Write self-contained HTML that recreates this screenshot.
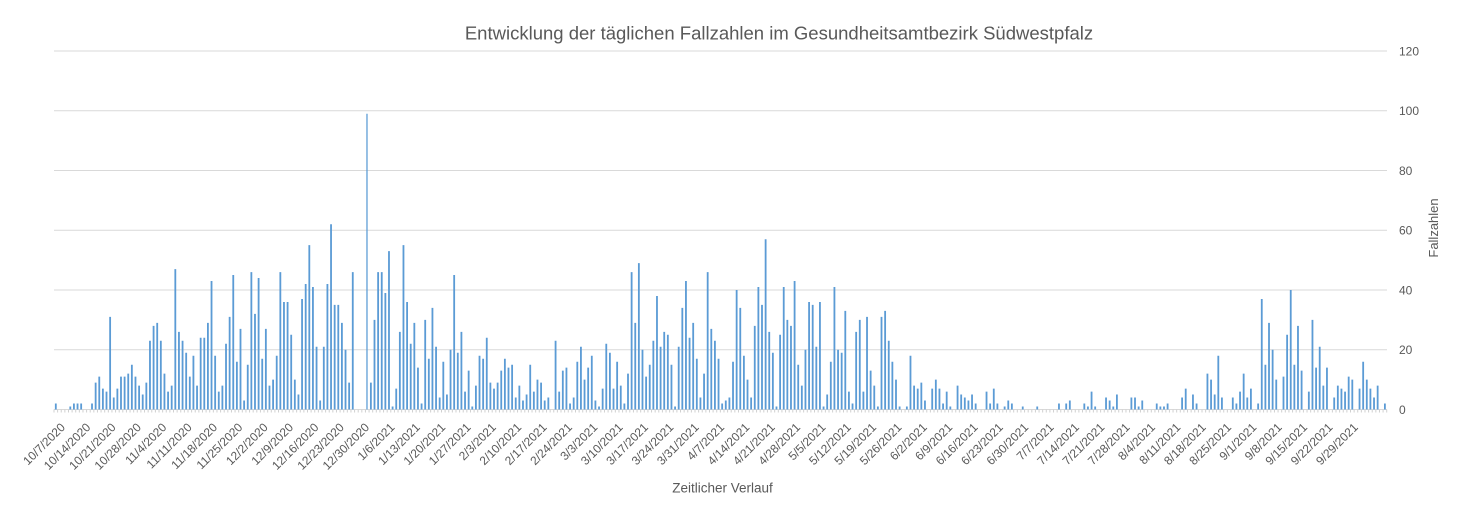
<!DOCTYPE html>
<html><head><meta charset="utf-8"><style>
html,body{margin:0;padding:0;background:#fff;}
svg{display:block;}
text{font-family:"Liberation Sans",sans-serif;fill:#595959;}
</style></head><body>
<svg width="1458" height="512" viewBox="0 0 1458 512" xmlns="http://www.w3.org/2000/svg">
<rect width="1458" height="512" fill="#fff"/>
<text x="779" y="39.5" font-size="18.5" text-anchor="middle">Entwicklung der täglichen Fallzahlen im Gesundheitsamtbezirk Südwestpfalz</text>
<g stroke="#D9D9D9" stroke-width="1">
<line x1="54" y1="51" x2="1387" y2="51"/>
<line x1="54" y1="110.75" x2="1387" y2="110.75"/>
<line x1="54" y1="170.5" x2="1387" y2="170.5"/>
<line x1="54" y1="230.25" x2="1387" y2="230.25"/>
<line x1="54" y1="290" x2="1387" y2="290"/>
<line x1="54" y1="349.75" x2="1387" y2="349.75"/>
<line x1="54" y1="409.5" x2="1387" y2="409.5"/>
</g>
<line x1="53.5" y1="411" x2="1387.5" y2="411" stroke="#D0D0D0" stroke-width="3" stroke-dasharray="1 2.6215"/>
<g font-size="12">
<text x="1399" y="55.3">120</text>
<text x="1399" y="115">100</text>
<text x="1399" y="174.8">80</text>
<text x="1399" y="234.5">60</text>
<text x="1399" y="294.3">40</text>
<text x="1399" y="354">20</text>
<text x="1399" y="413.8">0</text>
</g>
<text transform="translate(1438,228) rotate(-90)" font-size="13" text-anchor="middle">Fallzahlen</text>
<text x="722.5" y="492.3" font-size="13.5" text-anchor="middle">Zeitlicher Verlauf</text>
<g transform="translate(54.9,409.5) scale(3.6215,-2.9875)" fill="#5B9BD5">
<path d="M0 0h.5v2h-.5zM4 0h.5v1h-.5zM5 0h.5v2h-.5zM6 0h.5v2h-.5zM7 0h.5v2h-.5zM10 0h.5v2h-.5zM11 0h.5v9h-.5zM12 0h.5v11h-.5zM13 0h.5v7h-.5zM14 0h.5v6h-.5zM15 0h.5v31h-.5zM16 0h.5v4h-.5zM17 0h.5v7h-.5zM18 0h.5v11h-.5zM19 0h.5v11h-.5zM20 0h.5v12h-.5zM21 0h.5v15h-.5zM22 0h.5v11h-.5zM23 0h.5v8h-.5zM24 0h.5v5h-.5zM25 0h.5v9h-.5zM26 0h.5v23h-.5zM27 0h.5v28h-.5zM28 0h.5v29h-.5zM29 0h.5v23h-.5zM30 0h.5v12h-.5zM31 0h.5v6h-.5zM32 0h.5v8h-.5zM33 0h.5v47h-.5zM34 0h.5v26h-.5zM35 0h.5v23h-.5zM36 0h.5v19h-.5zM37 0h.5v11h-.5zM38 0h.5v18h-.5zM39 0h.5v8h-.5zM40 0h.5v24h-.5z
M41 0h.5v24h-.5zM42 0h.5v29h-.5zM43 0h.5v43h-.5zM44 0h.5v18h-.5zM45 0h.5v6h-.5zM46 0h.5v8h-.5zM47 0h.5v22h-.5zM48 0h.5v31h-.5zM49 0h.5v45h-.5zM50 0h.5v16h-.5zM51 0h.5v27h-.5zM52 0h.5v3h-.5zM53 0h.5v15h-.5zM54 0h.5v46h-.5zM55 0h.5v32h-.5zM56 0h.5v44h-.5zM57 0h.5v17h-.5zM58 0h.5v27h-.5zM59 0h.5v8h-.5zM60 0h.5v10h-.5zM61 0h.5v18h-.5zM62 0h.5v46h-.5zM63 0h.5v36h-.5zM64 0h.5v36h-.5zM65 0h.5v25h-.5zM66 0h.5v10h-.5zM67 0h.5v5h-.5zM68 0h.5v37h-.5zM69 0h.5v42h-.5zM70 0h.5v55h-.5zM71 0h.5v41h-.5zM72 0h.5v21h-.5zM73 0h.5v3h-.5zM74 0h.5v21h-.5zM75 0h.5v42h-.5zM76 0h.5v62h-.5zM77 0h.5v35h-.5zM78 0h.5v35h-.5zM79 0h.5v29h-.5zM80 0h.5v20h-.5zM81 0h.5v9h-.5zM82 0h.5v46h-.5z
M86 0h.35v99h-.35zM87 0h.5v9h-.5zM88 0h.5v30h-.5zM89 0h.5v46h-.5zM90 0h.5v46h-.5zM91 0h.5v39h-.5zM92 0h.5v53h-.5zM93 0h.5v1h-.5zM94 0h.5v7h-.5zM95 0h.5v26h-.5zM96 0h.5v55h-.5zM97 0h.5v36h-.5zM98 0h.5v22h-.5zM99 0h.5v29h-.5zM100 0h.5v14h-.5zM101 0h.5v2h-.5zM102 0h.5v30h-.5zM103 0h.5v17h-.5zM104 0h.5v34h-.5zM105 0h.5v21h-.5zM106 0h.5v4h-.5zM107 0h.5v16h-.5zM108 0h.5v5h-.5zM109 0h.5v20h-.5zM110 0h.5v45h-.5zM111 0h.5v19h-.5zM112 0h.5v26h-.5zM113 0h.5v6h-.5zM114 0h.5v13h-.5zM115 0h.5v1h-.5zM116 0h.5v8h-.5zM117 0h.5v18h-.5zM118 0h.5v17h-.5zM119 0h.5v24h-.5zM120 0h.5v9h-.5zM121 0h.5v7h-.5zM122 0h.5v9h-.5z
M123 0h.5v13h-.5zM124 0h.5v17h-.5zM125 0h.5v14h-.5zM126 0h.5v15h-.5zM127 0h.5v4h-.5zM128 0h.5v8h-.5zM129 0h.5v3h-.5zM130 0h.5v5h-.5zM131 0h.5v15h-.5zM132 0h.5v6h-.5zM133 0h.5v10h-.5zM134 0h.5v9h-.5zM135 0h.5v3h-.5zM136 0h.5v4h-.5zM138 0h.5v23h-.5zM139 0h.5v6h-.5zM140 0h.5v13h-.5zM141 0h.5v14h-.5zM142 0h.5v2h-.5zM143 0h.5v4h-.5zM144 0h.5v16h-.5zM145 0h.5v21h-.5zM146 0h.5v10h-.5zM147 0h.5v14h-.5zM148 0h.5v18h-.5zM149 0h.5v3h-.5zM150 0h.5v1h-.5zM151 0h.5v7h-.5zM152 0h.5v22h-.5zM153 0h.5v19h-.5zM154 0h.5v7h-.5zM155 0h.5v16h-.5zM156 0h.5v8h-.5zM157 0h.5v2h-.5zM158 0h.5v12h-.5zM159 0h.5v46h-.5zM160 0h.5v29h-.5zM161 0h.5v49h-.5zM162 0h.5v20h-.5z
M163 0h.5v11h-.5zM164 0h.5v15h-.5zM165 0h.5v23h-.5zM166 0h.5v38h-.5zM167 0h.5v21h-.5zM168 0h.5v26h-.5zM169 0h.5v25h-.5zM170 0h.5v15h-.5zM171 0h.5v1h-.5zM172 0h.5v21h-.5zM173 0h.5v34h-.5zM174 0h.5v43h-.5zM175 0h.5v24h-.5zM176 0h.5v29h-.5zM177 0h.5v17h-.5zM178 0h.5v4h-.5zM179 0h.5v12h-.5zM180 0h.5v46h-.5zM181 0h.5v27h-.5zM182 0h.5v23h-.5zM183 0h.5v17h-.5zM184 0h.5v2h-.5zM185 0h.5v3h-.5zM186 0h.5v4h-.5zM187 0h.5v16h-.5zM188 0h.5v40h-.5zM189 0h.5v34h-.5zM190 0h.5v18h-.5zM191 0h.5v10h-.5zM192 0h.5v4h-.5zM193 0h.5v28h-.5zM194 0h.5v41h-.5zM195 0h.5v35h-.5zM196 0h.5v57h-.5zM197 0h.5v26h-.5zM198 0h.5v19h-.5zM199 0h.5v1h-.5zM200 0h.5v25h-.5zM201 0h.5v41h-.5zM202 0h.5v30h-.5zM203 0h.5v28h-.5z
M204 0h.5v43h-.5zM205 0h.5v15h-.5zM206 0h.5v8h-.5zM207 0h.5v20h-.5zM208 0h.5v36h-.5zM209 0h.5v35h-.5zM210 0h.5v21h-.5zM211 0h.5v36h-.5zM212 0h.5v1h-.5zM213 0h.5v5h-.5zM214 0h.5v16h-.5zM215 0h.5v41h-.5zM216 0h.5v20h-.5zM217 0h.5v19h-.5zM218 0h.5v33h-.5zM219 0h.5v6h-.5zM220 0h.5v2h-.5zM221 0h.5v26h-.5zM222 0h.5v30h-.5zM223 0h.5v6h-.5zM224 0h.5v31h-.5zM225 0h.5v13h-.5zM226 0h.5v8h-.5zM227 0h.5v1h-.5zM228 0h.5v31h-.5zM229 0h.5v33h-.5zM230 0h.5v23h-.5zM231 0h.5v16h-.5zM232 0h.5v10h-.5zM233 0h.5v1h-.5zM235 0h.5v1h-.5zM236 0h.5v18h-.5zM237 0h.5v8h-.5zM238 0h.5v7h-.5zM239 0h.5v9h-.5zM240 0h.5v3h-.5zM242 0h.5v7h-.5zM243 0h.5v10h-.5zM244 0h.5v7h-.5z
M245 0h.5v2h-.5zM246 0h.5v6h-.5zM247 0h.5v1h-.5zM249 0h.5v8h-.5zM250 0h.5v5h-.5zM251 0h.5v4h-.5zM252 0h.5v3h-.5zM253 0h.5v5h-.5zM254 0h.5v2h-.5zM257 0h.5v6h-.5zM258 0h.5v2h-.5zM259 0h.5v7h-.5zM260 0h.5v2h-.5zM262 0h.5v1h-.5zM263 0h.5v3h-.5zM264 0h.5v2h-.5zM267 0h.5v1h-.5zM271 0h.5v1h-.5zM277 0h.5v2h-.5zM279 0h.5v2h-.5zM280 0h.5v3h-.5zM284 0h.5v2h-.5zM285 0h.5v1h-.5zM286 0h.5v6h-.5zM287 0h.5v1h-.5zM290 0h.5v4h-.5zM291 0h.5v3h-.5zM292 0h.5v1h-.5zM293 0h.5v5h-.5zM297 0h.5v4h-.5zM298 0h.5v4h-.5zM299 0h.5v1h-.5zM300 0h.5v3h-.5zM304 0h.5v2h-.5zM305 0h.5v1h-.5zM306 0h.5v1h-.5zM307 0h.5v2h-.5zM311 0h.5v4h-.5zM312 0h.5v7h-.5zM314 0h.5v5h-.5zM315 0h.5v2h-.5zM318 0h.5v12h-.5zM319 0h.5v10h-.5zM320 0h.5v5h-.5zM321 0h.5v18h-.5zM322 0h.5v4h-.5zM325 0h.5v4h-.5zM326 0h.5v2h-.5z
M327 0h.5v6h-.5zM328 0h.5v12h-.5zM329 0h.5v4h-.5zM330 0h.5v7h-.5zM332 0h.5v2h-.5zM333 0h.5v37h-.5zM334 0h.5v15h-.5zM335 0h.5v29h-.5zM336 0h.5v20h-.5zM337 0h.5v10h-.5zM339 0h.5v11h-.5zM340 0h.5v25h-.5zM341 0h.5v40h-.5zM342 0h.5v15h-.5zM343 0h.5v28h-.5zM344 0h.5v13h-.5zM346 0h.5v6h-.5zM347 0h.5v30h-.5zM348 0h.5v14h-.5zM349 0h.5v21h-.5zM350 0h.5v8h-.5zM351 0h.5v14h-.5zM353 0h.5v4h-.5zM354 0h.5v8h-.5zM355 0h.5v7h-.5zM356 0h.5v6h-.5zM357 0h.5v11h-.5zM358 0h.5v10h-.5zM360 0h.5v7h-.5zM361 0h.5v16h-.5zM362 0h.5v10h-.5zM363 0h.5v7h-.5zM364 0h.5v4h-.5zM365 0h.5v8h-.5zM367 0h.5v2h-.5z"/>
</g>
<g font-size="12" text-anchor="end">
<text transform="translate(65.81,428) rotate(-45)">10/7/2020</text>
<text transform="translate(91.16,428) rotate(-45)">10/14/2020</text>
<text transform="translate(116.51,428) rotate(-45)">10/21/2020</text>
<text transform="translate(141.86,428) rotate(-45)">10/28/2020</text>
<text transform="translate(167.21,428) rotate(-45)">11/4/2020</text>
<text transform="translate(192.56,428) rotate(-45)">11/11/2020</text>
<text transform="translate(217.91,428) rotate(-45)">11/18/2020</text>
<text transform="translate(243.26,428) rotate(-45)">11/25/2020</text>
<text transform="translate(268.61,428) rotate(-45)">12/2/2020</text>
<text transform="translate(293.96,428) rotate(-45)">12/9/2020</text>
<text transform="translate(319.32,428) rotate(-45)">12/16/2020</text>
<text transform="translate(344.67,428) rotate(-45)">12/23/2020</text>
<text transform="translate(370.02,428) rotate(-45)">12/30/2020</text>
<text transform="translate(395.37,428) rotate(-45)">1/6/2021</text>
<text transform="translate(420.72,428) rotate(-45)">1/13/2021</text>
<text transform="translate(446.07,428) rotate(-45)">1/20/2021</text>
<text transform="translate(471.42,428) rotate(-45)">1/27/2021</text>
<text transform="translate(496.77,428) rotate(-45)">2/3/2021</text>
<text transform="translate(522.12,428) rotate(-45)">2/10/2021</text>
<text transform="translate(547.47,428) rotate(-45)">2/17/2021</text>
<text transform="translate(572.82,428) rotate(-45)">2/24/2021</text>
<text transform="translate(598.17,428) rotate(-45)">3/3/2021</text>
<text transform="translate(623.52,428) rotate(-45)">3/10/2021</text>
<text transform="translate(648.87,428) rotate(-45)">3/17/2021</text>
<text transform="translate(674.22,428) rotate(-45)">3/24/2021</text>
<text transform="translate(699.57,428) rotate(-45)">3/31/2021</text>
<text transform="translate(724.92,428) rotate(-45)">4/7/2021</text>
<text transform="translate(750.27,428) rotate(-45)">4/14/2021</text>
<text transform="translate(775.62,428) rotate(-45)">4/21/2021</text>
<text transform="translate(800.97,428) rotate(-45)">4/28/2021</text>
<text transform="translate(826.33,428) rotate(-45)">5/5/2021</text>
<text transform="translate(851.68,428) rotate(-45)">5/12/2021</text>
<text transform="translate(877.03,428) rotate(-45)">5/19/2021</text>
<text transform="translate(902.38,428) rotate(-45)">5/26/2021</text>
<text transform="translate(927.73,428) rotate(-45)">6/2/2021</text>
<text transform="translate(953.08,428) rotate(-45)">6/9/2021</text>
<text transform="translate(978.43,428) rotate(-45)">6/16/2021</text>
<text transform="translate(1003.78,428) rotate(-45)">6/23/2021</text>
<text transform="translate(1029.13,428) rotate(-45)">6/30/2021</text>
<text transform="translate(1054.48,428) rotate(-45)">7/7/2021</text>
<text transform="translate(1079.83,428) rotate(-45)">7/14/2021</text>
<text transform="translate(1105.18,428) rotate(-45)">7/21/2021</text>
<text transform="translate(1130.53,428) rotate(-45)">7/28/2021</text>
<text transform="translate(1155.88,428) rotate(-45)">8/4/2021</text>
<text transform="translate(1181.23,428) rotate(-45)">8/11/2021</text>
<text transform="translate(1206.58,428) rotate(-45)">8/18/2021</text>
<text transform="translate(1231.93,428) rotate(-45)">8/25/2021</text>
<text transform="translate(1257.28,428) rotate(-45)">9/1/2021</text>
<text transform="translate(1282.63,428) rotate(-45)">9/8/2021</text>
<text transform="translate(1307.98,428) rotate(-45)">9/15/2021</text>
<text transform="translate(1333.34,428) rotate(-45)">9/22/2021</text>
<text transform="translate(1358.69,428) rotate(-45)">9/29/2021</text>
</g>
</svg>
</body></html>
